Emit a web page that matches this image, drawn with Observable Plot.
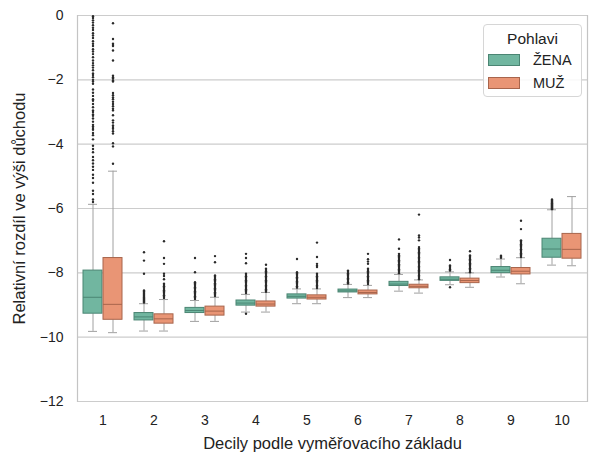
<!DOCTYPE html>
<html>
<head>
<meta charset="utf-8">
<script src="https://cdn.jsdelivr.net/npm/d3@7"></script>
<script src="https://cdn.jsdelivr.net/npm/@observablehq/plot@0.6"></script>
<style>
  html, body { margin: 0; padding: 0; background: #fff; }
  #wrap { position: relative; width: 600px; height: 461px; font-family: "Liberation Sans", Arial, sans-serif; }
  #legend { position: absolute; left: 483px; top: 24px; width: 99px; height: 73px; box-sizing: border-box;
    border: 1px solid #d6d6d6; border-radius: 4px; background: rgba(255,255,255,0.85); color: #222; }
  #legend .title { text-align: center; font-size: 15.5px; margin-top: 5px; }
  #legend .row { display: flex; align-items: center; margin-left: 4px; height: 23px; font-size: 14.5px; }
  #legend .sw { width: 32px; height: 12px; box-sizing: border-box; margin-right: 13px; }
</style>
</head>
<body>
<div id="wrap"></div>
<script>
const deciles = ["1","2","3","4","5","6","7","8","9","10"];
const sexes = ["ŽENA","MUŽ"];
const yTicks = [0,-2,-4,-6,-8,-10,-12];

const zenaLo  = [-9.82,-9.81,-9.51,-9.22,-8.96,-8.77,-8.57,-8.37,-8.13,-7.76];
const zenaQ1  = [-9.27,-9.48,-9.25,-9.02,-8.80,-8.61,-8.41,-8.25,-8.01,-7.53];
const zenaMed = [-8.76,-9.37,-9.17,-8.94,-8.73,-8.56,-8.35,-8.20,-7.92,-7.26];
const zenaQ3  = [-7.93,-9.25,-9.09,-8.86,-8.67,-8.52,-8.28,-8.14,-7.82,-6.94];
const zenaHi  = [-5.87,-8.96,-8.86,-8.67,-8.50,-8.36,-8.05,-7.97,-7.57,-6.04];

const muzLo  = [-9.86,-9.81,-9.51,-9.22,-8.96,-8.77,-8.63,-8.45,-8.34,-7.78];
const muzQ1  = [-9.46,-9.58,-9.33,-9.05,-8.83,-8.67,-8.48,-8.32,-8.05,-7.56];
const muzMed = [-8.98,-9.43,-9.19,-8.97,-8.76,-8.61,-8.42,-8.24,-7.95,-7.27];
const muzQ3  = [-7.54,-9.29,-9.05,-8.89,-8.70,-8.55,-8.37,-8.18,-7.85,-6.79];
const muzHi  = [-4.84,-8.83,-8.76,-8.61,-8.50,-8.39,-8.22,-8.00,-7.53,-5.63];

const zenaOut = [
  [-0.02,-0.08,-0.15,-0.22,-0.30,-0.38,-0.45,-0.55,-0.62,-0.70,-0.80,-0.88,-0.95,-1.05,-1.12,-1.20,-1.30,-1.40,-1.48,-1.55,-1.62,-1.70,-1.80,-1.85,-1.92,-2.00,-2.05,-2.12,-2.30,-2.40,-2.50,-2.60,-2.65,-2.75,-2.85,-2.95,-3.00,-3.08,-3.12,-3.20,-3.30,-3.40,-3.45,-3.50,-3.55,-3.65,-3.72,-3.85,-4.05,-4.15,-4.25,-4.40,-4.50,-4.60,-4.70,-4.80,-4.95,-5.05,-5.20,-5.45,-5.55,-5.72,-5.80],
  [-7.36,-7.62,-8.03,-8.55,-8.58,-8.62,-8.65,-8.68,-8.71,-8.74,-8.77,-8.80,-8.83,-8.86,-8.89,-8.92],
  [-7.54,-7.98,-8.29,-8.33,-8.37,-8.41,-8.45,-8.49,-8.53,-8.57,-8.61,-8.65,-8.69,-8.73,-8.77,-8.81],
  [-7.41,-7.54,-7.70,-8.03,-8.07,-8.11,-8.15,-8.19,-8.23,-8.27,-8.31,-8.35,-8.39,-8.43,-8.47,-8.51,-8.55,-8.59,-8.63,-9.27],
  [-7.57,-7.98,-8.02,-8.06,-8.10,-8.14,-8.18,-8.22,-8.26,-8.30,-8.34,-8.38,-8.42,-8.46],
  [-7.93,-7.97,-8.01,-8.05,-8.09,-8.13,-8.17,-8.21,-8.25,-8.29,-8.33],
  [-6.96,-7.25,-7.41,-7.45,-7.49,-7.53,-7.57,-7.61,-7.65,-7.69,-7.73,-7.77,-7.81,-7.85,-7.89,-7.93,-7.97,-8.01],
  [-7.60,-7.77,-7.81,-7.85,-7.89,-7.93,-8.45],
  [-7.47,-7.50,-7.53],
  [-5.72,-5.75,-5.78,-5.81,-5.84,-5.87,-5.90,-5.93,-5.96,-5.99,-6.02]
];
const muzOut = [
  [-0.24,-0.73,-0.88,-0.92,-0.95,-1.09,-1.40,-1.87,-1.92,-1.96,-2.02,-2.05,-2.41,-2.48,-2.55,-2.60,-2.68,-2.75,-2.82,-2.90,-2.95,-3.10,-3.26,-3.33,-3.42,-3.47,-3.52,-3.60,-3.67,-3.97,-4.07,-4.61],
  [-7.02,-7.54,-7.72,-8.03,-8.10,-8.20,-8.34,-8.38,-8.42,-8.46,-8.50,-8.54,-8.58,-8.62,-8.66,-8.70,-8.74,-8.78],
  [-7.48,-7.67,-8.08,-8.12,-8.16,-8.20,-8.24,-8.28,-8.32,-8.36,-8.40,-8.44,-8.48,-8.52,-8.56,-8.60,-8.64,-8.68,-8.72],
  [-7.75,-7.87,-7.91,-7.95,-7.99,-8.03,-8.07,-8.11,-8.15,-8.19,-8.23,-8.27,-8.31,-8.35,-8.39,-8.43,-8.47,-8.51,-8.55,-8.59],
  [-7.06,-7.51,-7.72,-7.78,-7.82,-8.03,-8.07,-8.11,-8.15,-8.19,-8.23,-8.27,-8.31,-8.35,-8.39,-8.43,-8.47],
  [-7.41,-7.58,-7.65,-7.72,-7.87,-7.91,-7.95,-7.99,-8.03,-8.07,-8.11,-8.15,-8.19,-8.23,-8.27,-8.31,-8.35],
  [-6.19,-6.84,-6.90,-6.99,-7.20,-7.24,-7.28,-7.32,-7.36,-7.40,-7.44,-7.48,-7.52,-7.56,-7.60,-7.64,-7.68,-7.72,-7.76,-7.80,-7.84,-7.88,-7.92,-7.96,-8.00,-8.04,-8.08,-8.12,-8.16,-8.20],
  [-7.33,-7.46,-7.50,-7.54,-7.58,-7.62,-7.66,-7.70,-7.74,-7.78,-7.82,-7.86,-7.90,-7.94,-7.98],
  [-6.38,-6.64,-6.99,-7.03,-7.07,-7.11,-7.15,-7.19,-7.23,-7.27,-7.31,-7.35,-7.39,-7.43,-7.47,-7.51],
  []
];

const fillColors = {"ŽENA": "#71b6a0", "MUŽ": "#e99575"};
const edgeColors = {"ŽENA": "#4b8573", "MUŽ": "#a8654c"};

const stats = deciles.flatMap((d, i) => [
  {decile: d, sex: "ŽENA", lo: zenaLo[i], q1: zenaQ1[i], med: zenaMed[i], q3: zenaQ3[i], hi: zenaHi[i]},
  {decile: d, sex: "MUŽ", lo: muzLo[i], q1: muzQ1[i], med: muzMed[i], q3: muzQ3[i], hi: muzHi[i]}
]);
const outliers = deciles.flatMap((d, i) => [
  ...zenaOut[i].map(v => ({decile: d, sex: "ŽENA", value: v})),
  ...muzOut[i].map(v => ({decile: d, sex: "MUŽ", value: v}))
]);

const boxMarks = sexes.flatMap(s => {
  const data = stats.filter(r => r.sex === s);
  return [
    Plot.barY(data, {fx: "decile", x: "sex", y1: "q1", y2: "q3", fill: fillColors[s], stroke: edgeColors[s], strokeWidth: 1}),
    Plot.tickY(data, {fx: "decile", x: "sex", y: "med", stroke: edgeColors[s], strokeWidth: 1})
  ];
});

const chart = Plot.plot({
  width: 600,
  height: 461,
  marginLeft: 72,
  marginRight: 9,
  marginTop: 15,
  marginBottom: 60,
  style: {fontFamily: "'Liberation Sans', Arial, sans-serif", fontSize: "14px", color: "#222", background: "#fff"},
  fx: {domain: deciles, padding: 0},
  x: {domain: sexes, paddingInner: 0.07, paddingOuter: 0.27, axis: null},
  y: {domain: [-12, 0]},
  marks: [
    Plot.ruleY(yTicks, {stroke: "#cccccc", strokeWidth: 1.2}),
    Plot.frame({anchor: "left", facetAnchor: "left", stroke: "#c4c4c4", strokeWidth: 1.2}),
    Plot.frame({anchor: "right", facetAnchor: "right", stroke: "#c4c4c4", strokeWidth: 1.2}),
    Plot.ruleX(stats, {fx: "decile", x: "sex", y1: "lo", y2: "q1", stroke: "#a0a0a0", strokeWidth: 1}),
    Plot.ruleX(stats, {fx: "decile", x: "sex", y1: "q3", y2: "hi", stroke: "#a0a0a0", strokeWidth: 1}),
    Plot.tickY(stats, {fx: "decile", x: "sex", y: "lo", stroke: "#a0a0a0", strokeWidth: 1, insetLeft: 5, insetRight: 5}),
    Plot.tickY(stats, {fx: "decile", x: "sex", y: "hi", stroke: "#a0a0a0", strokeWidth: 1, insetLeft: 5, insetRight: 5}),
    ...boxMarks,
    Plot.dot(outliers, {fx: "decile", x: "sex", y: "value", r: 1.2, fill: "#2a2a2a", stroke: null}),
    Plot.axisY({ticks: yTicks, tickSize: 0, tickPadding: 14, fontSize: 14, tickFormat: d => d === 0 ? "0" : "−" + Math.abs(d),
      label: "Relativní rozdíl ve výši důchodu", labelAnchor: "center", labelArrow: "none", labelOffset: 64}),
    Plot.axisFx({anchor: "bottom", tickSize: 0, tickPadding: 14, fontSize: 14,
      label: "Decily podle vyměřovacího základu", labelAnchor: "center", labelArrow: "none", labelOffset: 47})
  ]
});

chart.querySelectorAll('g[aria-label$="axis label"] text').forEach(t => t.setAttribute("font-size", "16.5"));
chart.querySelectorAll('g[aria-label$="axis label"]').forEach(g => g.setAttribute("font-size", "16.5"));

const wrap = document.getElementById("wrap");
wrap.appendChild(chart);

const legend = document.createElement("div");
legend.id = "legend";
legend.innerHTML = '<div class="title">Pohlavi</div>' + sexes.map(s =>
  `<div class="row"><div class="sw" style="background:${fillColors[s]};border:1px solid ${edgeColors[s]}"></div>${s}</div>`).join("");
wrap.appendChild(legend);
</script>
</body>
</html>
